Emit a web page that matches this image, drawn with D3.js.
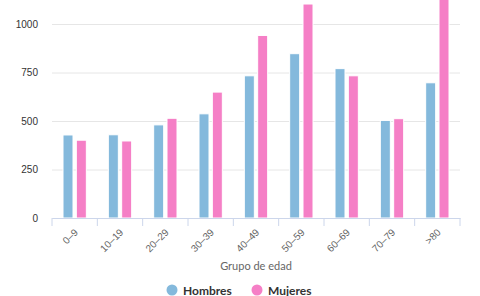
<!DOCTYPE html>
<html>
<head>
<meta charset="utf-8">
<script src="https://cdn.jsdelivr.net/npm/d3@7"></script>
<style>
  body { margin: 0; background: #fff; }
  svg { font-family: "Lato", "Open Sans", sans-serif; }
</style>
</head>
<body>
<div id="chart"></div>
<script>
// age groups and values per group
const categories = ["0–9", "10–19", "20–29", "30–39", "40–49", "50–59", "60–69", "70–79", ">80"];
const series = ["Hombres", "Mujeres"];
const hombres = [428, 429, 480, 537, 733, 847, 770, 503, 697];
const mujeres = [401, 397, 514, 649, 941, 1103, 733, 512, 1180];
const yTicks = [0, 250, 500, 750, 1000];
const colors = ["#84b9dc", "#f57fc6"];

const width = 480, height = 296;
const plot = {left: 52, right: 460, top: 0, bottom: 218};

const svg = d3.select("#chart").append("svg")
  .attr("width", width)
  .attr("height", height);

// scales
const x0 = d3.scaleBand()
  .domain(categories)
  .range([plot.left, plot.right]);

const x1 = d3.scaleBand()
  .domain(series)
  .range([11, x0.bandwidth() - 11])
  .paddingInner(0.25);

const y = d3.scaleLinear()
  .domain([0, 1000])
  .range([plot.bottom, 24]);

const color = d3.scaleOrdinal().domain(series).range(colors);

// gridlines + y labels
const yAxis = d3.axisLeft(y)
  .tickValues(yTicks)
  .tickFormat(d3.format("d"))
  .tickSize(-(plot.right - plot.left))
  .tickPadding(14);
const yAxisG = svg.append("g")
  .attr("transform", "translate(" + plot.left + ",0)")
  .call(yAxis);
yAxisG.select(".domain").remove();
yAxisG.selectAll(".tick line").attr("stroke", "#e6e6e6").attr("stroke-width", 1);
yAxisG.selectAll(".tick text")
  .attr("fill", "#333")
  .style("font-size", "10px");

// bars
const rows = categories.map((c, i) => ({cat: c, Hombres: hombres[i], Mujeres: mujeres[i]}));

svg.append("defs").append("clipPath").attr("id", "clip")
  .append("rect")
  .attr("x", plot.left).attr("y", plot.top)
  .attr("width", plot.right - plot.left).attr("height", plot.bottom - plot.top);

svg.append("g")
  .attr("clip-path", "url(#clip)")
  .selectAll("g")
  .data(rows)
  .join("g")
    .attr("transform", d => "translate(" + x0(d.cat) + ",0)")
  .selectAll("rect")
  .data(d => series.map(s => ({key: s, value: d[s]})))
  .join("rect")
    .attr("x", d => x1(d.key))
    .attr("y", d => y(d.value))
    .attr("width", x1.bandwidth())
    .attr("height", d => y(0) - y(d.value))
    .attr("fill", d => color(d.key))
    .attr("stroke", "#fff")
    .attr("stroke-width", 1);

// x axis
const xAxis = d3.axisBottom(x0).tickSize(0).tickPadding(0);
const xAxisG = svg.append("g")
  .attr("transform", "translate(0," + plot.bottom + ")")
  .call(xAxis);
xAxisG.select(".domain").attr("stroke", "#ccd6eb");
xAxisG.selectAll(".tick text")
  .attr("fill", "#666")
  .style("font-size", "10px")
  .attr("text-anchor", "end")
  .attr("dy", "0")
  .attr("transform", "translate(4,15) rotate(-45)");

// boundary ticks
const bounds = categories.map(c => x0(c)).concat([plot.right]);
svg.append("g")
  .selectAll("line")
  .data(bounds)
  .join("line")
    .attr("x1", d => d).attr("x2", d => d)
    .attr("y1", plot.bottom).attr("y2", plot.bottom + 8)
    .attr("stroke", "#ccd6eb");

// axis title
svg.append("text")
  .attr("x", (plot.left + plot.right) / 2)
  .attr("y", 270)
  .attr("text-anchor", "middle")
  .attr("fill", "#666")
  .style("font-size", "11px")
  .text("Grupo de edad");

// legend
const legendX = [172, 257];
const legend = svg.append("g")
  .selectAll("g")
  .data(series)
  .join("g")
    .attr("transform", (d, i) => "translate(" + legendX[i] + ",290)");
legend.append("circle")
  .attr("r", 5.5)
  .attr("fill", d => color(d));
legend.append("text")
  .attr("x", 11)
  .attr("y", 4.5)
  .attr("fill", "#333")
  .style("font-size", "12px")
  .style("font-weight", "bold")
  .text(d => d);
</script>
</body>
</html>
